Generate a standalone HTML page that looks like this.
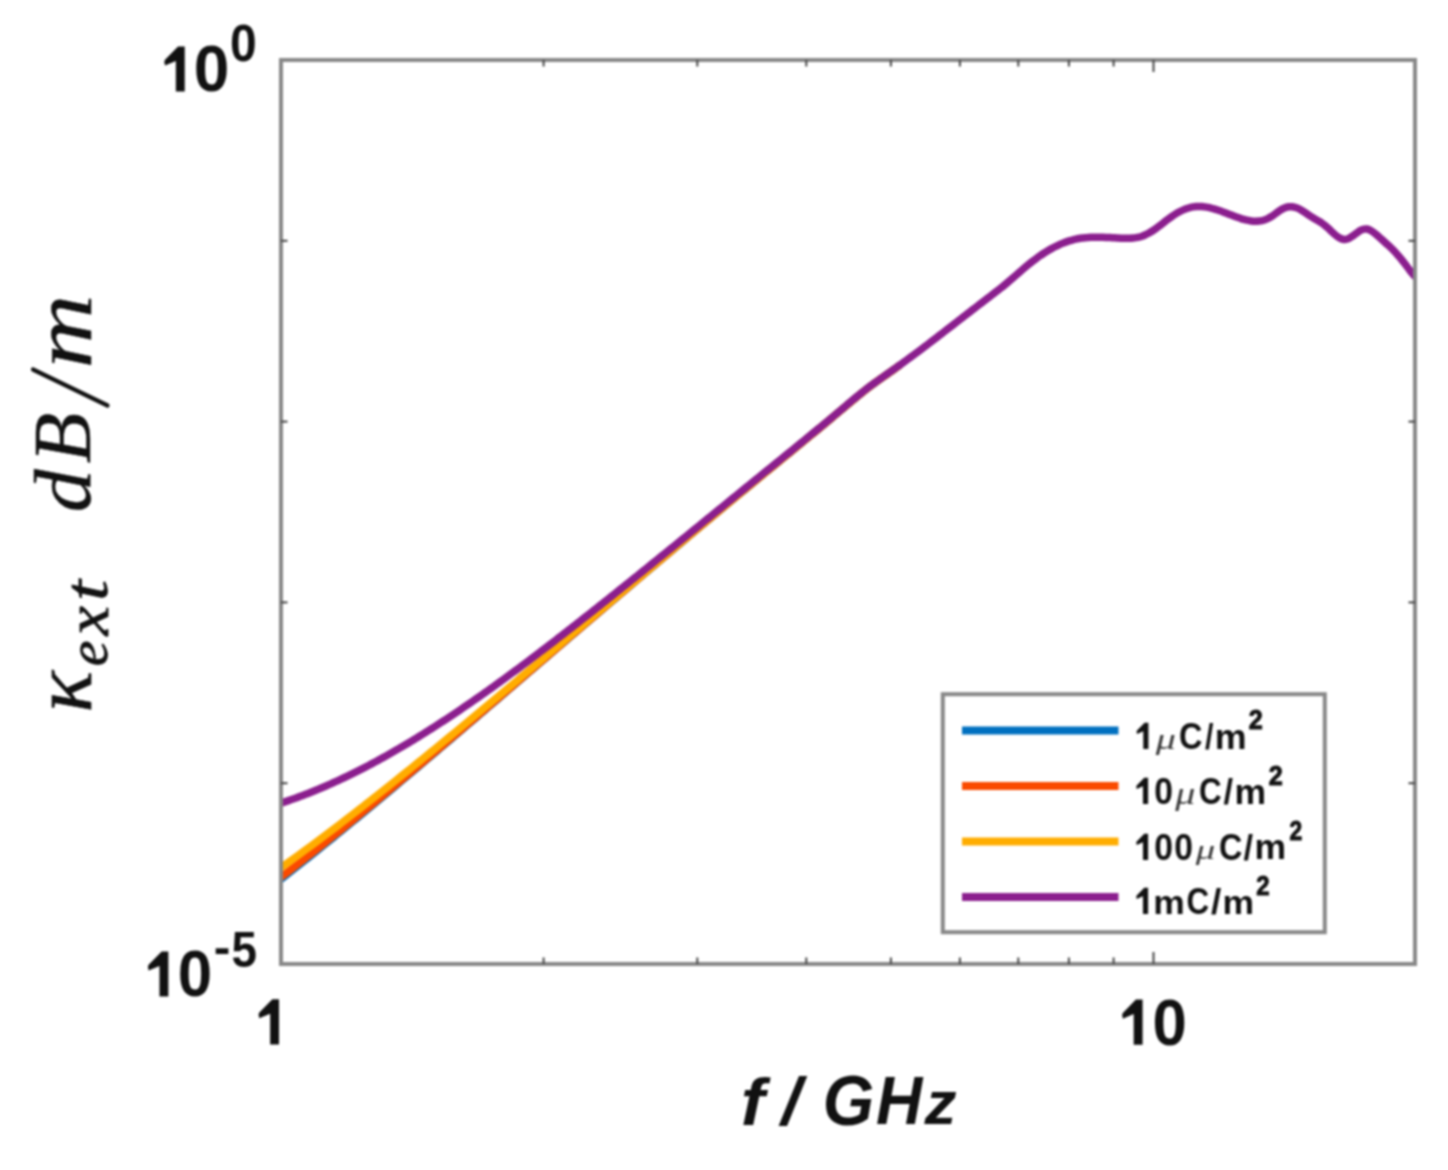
<!DOCTYPE html>
<html><head><meta charset="utf-8"><title>chart</title><style>
html,body{margin:0;padding:0;background:#fff;overflow:hidden;}
svg{display:block;filter:blur(1px);}
</style></head><body>
<svg width="1448" height="1170" viewBox="0 0 1448 1170">
<rect width="1448" height="1170" fill="#fff"/>
<defs><clipPath id="pc"><rect x="281.0" y="60.0" width="1134.0" height="904.0"/></clipPath></defs>
<g fill="none" stroke-linecap="round" stroke-linejoin="round" stroke-width="7.5" clip-path="url(#pc)">
<path d="M281.00,879.19 C282.00,878.41 285.00,876.09 287.00,874.53 C289.00,872.97 291.00,871.40 293.00,869.83 C295.00,868.26 297.00,866.68 299.00,865.10 C301.00,863.52 303.00,861.94 305.00,860.35 C307.00,858.76 309.00,857.16 311.00,855.57 C313.00,853.97 315.00,852.37 317.00,850.76 C319.00,849.15 321.00,847.54 323.00,845.93 C325.00,844.32 327.00,842.70 329.00,841.08 C331.00,839.46 333.00,837.83 335.00,836.20 C337.00,834.58 339.00,832.94 341.00,831.31 C343.00,829.68 345.00,828.04 347.00,826.40 C349.00,824.76 351.00,823.11 353.00,821.47 C355.00,819.82 357.00,818.17 359.00,816.52 C361.00,814.87 363.00,813.22 365.00,811.56 C367.00,809.90 369.00,808.24 371.00,806.58 C373.00,804.92 375.00,803.26 377.00,801.59 C379.00,799.92 381.00,798.26 383.00,796.59 C385.00,794.92 387.00,793.24 389.00,791.57 C391.00,789.89 393.00,788.22 395.00,786.54 C397.00,784.86 399.00,783.18 401.00,781.50 C403.00,779.82 405.00,778.13 407.00,776.45 C409.00,774.76 411.00,773.07 413.00,771.39 C415.00,769.70 417.00,768.01 419.00,766.32 C421.00,764.62 423.00,762.93 425.00,761.24 C427.00,759.54 429.00,757.85 431.00,756.15 C433.00,754.45 435.00,752.75 437.00,751.05 C439.00,749.35 441.00,747.65 443.00,745.95 C445.00,744.25 447.00,742.55 449.00,740.84 C451.00,739.14 453.00,737.43 455.00,735.73 C457.00,734.02 459.00,732.31 461.00,730.61 C463.00,728.90 465.00,727.19 467.00,725.48 C469.00,723.77 471.00,722.06 473.00,720.35 C475.00,718.64 477.00,716.92 479.00,715.21 C481.00,713.50 483.00,711.79 485.00,710.07 C487.00,708.36 489.00,706.64 491.00,704.93 C493.00,703.21 495.00,701.50 497.00,699.78 C499.00,698.07 501.00,696.35 503.00,694.63 C505.00,692.92 507.00,691.20 509.00,689.48 C511.00,687.77 513.00,686.05 515.00,684.33 C517.00,682.61 519.00,680.90 521.00,679.18 C523.00,677.46 525.00,675.74 527.00,674.02 C529.00,672.31 531.00,670.59 533.00,668.87 C535.00,667.15 537.00,665.44 539.00,663.72 C541.00,662.00 543.00,660.28 545.00,658.57 C547.00,656.85 549.00,655.13 551.00,653.42 C553.00,651.70 555.00,649.98 557.00,648.27 C559.00,646.55 561.00,644.84 563.00,643.12 C565.00,641.41 567.00,639.69 569.00,637.98 C571.00,636.27 573.00,634.56 575.00,632.84 C577.00,631.13 579.00,629.42 581.00,627.71 C583.00,626.00 585.00,624.29 587.00,622.59 C589.00,620.88 591.00,619.17 593.00,617.47 C595.00,615.76 597.00,614.05 599.00,612.35 C601.00,610.64 603.00,608.94 605.00,607.24 C607.00,605.54 609.00,603.83 611.00,602.13 C613.00,600.43 615.00,598.73 617.00,597.03 C619.00,595.33 621.00,593.64 623.00,591.94 C625.00,590.24 627.00,588.54 629.00,586.85 C631.00,585.15 633.00,583.46 635.00,581.76 C637.00,580.07 639.00,578.38 641.00,576.68 C643.00,574.99 645.00,573.30 647.00,571.61 C649.00,569.92 651.00,568.23 653.00,566.54 C655.00,564.85 657.00,563.16 659.00,561.48 C661.00,559.79 663.00,558.10 665.00,556.42 C667.00,554.73 669.00,553.05 671.00,551.36 C673.00,549.68 675.00,548.00 677.00,546.32 C679.00,544.64 681.00,542.96 683.00,541.28 C685.00,539.60 687.00,537.92 689.00,536.24 C691.00,534.56 693.00,532.89 695.00,531.21 C697.00,529.54 699.00,527.86 701.00,526.19 C703.00,524.52 705.00,522.85 707.00,521.18 C709.00,519.51 711.00,517.84 713.00,516.17 C715.00,514.50 717.00,512.83 719.00,511.17 C721.00,509.50 723.00,507.84 725.00,506.17 C727.00,504.51 729.00,502.85 731.00,501.19 C733.00,499.53 735.00,497.87 737.00,496.21 C739.00,494.55 741.00,492.90 743.00,491.24 C745.00,489.59 747.00,487.94 749.00,486.29 C751.00,484.63 753.00,482.98 755.00,481.34 C757.00,479.69 759.00,478.04 761.00,476.40 C763.00,474.75 765.00,473.11 767.00,471.47 C769.00,469.83 771.00,468.19 773.00,466.54 C775.00,464.90 777.00,463.26 779.00,461.63 C781.00,459.99 783.00,458.35 785.00,456.71 C787.00,455.07 789.00,453.43 791.00,451.78 C793.00,450.14 795.00,448.50 797.00,446.86 C799.00,445.21 801.00,443.57 803.00,441.92 C805.00,440.27 807.00,438.62 809.00,436.97 C811.00,435.32 813.00,433.67 815.00,432.01 C817.00,430.35 819.00,428.69 821.00,427.03 C823.00,425.37 825.00,423.70 827.00,422.03 C829.00,420.36 831.00,418.68 833.00,417.00 C835.00,415.32 837.00,413.64 839.00,411.95 C841.00,410.26 843.00,408.56 845.00,406.88 C847.00,405.19 849.00,403.49 851.00,401.82 C853.00,400.14 855.00,398.47 857.00,396.83 C859.00,395.19 861.00,393.56 863.00,391.97 C865.00,390.38 867.00,388.81 869.00,387.29 C871.00,385.77 873.00,384.29 875.00,382.84 C877.00,381.38 879.00,379.97 881.00,378.55 C883.00,377.14 885.00,375.75 887.00,374.34 C889.00,372.93 891.00,371.53 893.00,370.11 C895.00,368.69 898.00,366.53 899.00,365.81" stroke="#0070c0"/>
<path d="M281.00,877.26 C282.00,876.49 285.00,874.20 287.00,872.66 C289.00,871.12 291.00,869.58 293.00,868.03 C295.00,866.48 297.00,864.93 299.00,863.37 C301.00,861.81 303.00,860.24 305.00,858.67 C307.00,857.11 309.00,855.53 311.00,853.96 C313.00,852.38 315.00,850.80 317.00,849.21 C319.00,847.62 321.00,846.03 323.00,844.44 C325.00,842.84 327.00,841.24 329.00,839.64 C331.00,838.04 333.00,836.43 335.00,834.82 C337.00,833.21 339.00,831.60 341.00,829.98 C343.00,828.37 345.00,826.75 347.00,825.12 C349.00,823.50 351.00,821.88 353.00,820.25 C355.00,818.62 357.00,816.98 359.00,815.35 C361.00,813.71 363.00,812.07 365.00,810.43 C367.00,808.79 369.00,807.15 371.00,805.50 C373.00,803.86 375.00,802.21 377.00,800.56 C379.00,798.91 381.00,797.25 383.00,795.60 C385.00,793.94 387.00,792.28 389.00,790.62 C391.00,788.96 393.00,787.30 395.00,785.63 C397.00,783.97 399.00,782.30 401.00,780.63 C403.00,778.96 405.00,777.29 407.00,775.62 C409.00,773.94 411.00,772.27 413.00,770.59 C415.00,768.92 417.00,767.24 419.00,765.56 C421.00,763.88 423.00,762.20 425.00,760.51 C427.00,758.83 429.00,757.15 431.00,755.46 C433.00,753.77 435.00,752.08 437.00,750.40 C439.00,748.71 441.00,747.02 443.00,745.32 C445.00,743.63 447.00,741.94 449.00,740.24 C451.00,738.55 453.00,736.85 455.00,735.16 C457.00,733.46 459.00,731.76 461.00,730.06 C463.00,728.36 465.00,726.66 467.00,724.96 C469.00,723.26 471.00,721.56 473.00,719.86 C475.00,718.15 477.00,716.45 479.00,714.74 C481.00,713.04 483.00,711.33 485.00,709.63 C487.00,707.92 489.00,706.21 491.00,704.51 C493.00,702.80 495.00,701.09 497.00,699.38 C499.00,697.67 501.00,695.96 503.00,694.25 C505.00,692.54 507.00,690.83 509.00,689.12 C511.00,687.41 513.00,685.70 515.00,683.99 C517.00,682.28 519.00,680.57 521.00,678.85 C523.00,677.14 525.00,675.43 527.00,673.72 C529.00,672.00 531.00,670.29 533.00,668.58 C535.00,666.87 537.00,665.15 539.00,663.44 C541.00,661.73 543.00,660.02 545.00,658.31 C547.00,656.59 549.00,654.88 551.00,653.17 C553.00,651.46 555.00,649.75 557.00,648.03 C559.00,646.32 561.00,644.61 563.00,642.90 C565.00,641.19 567.00,639.48 569.00,637.77 C571.00,636.06 573.00,634.36 575.00,632.65 C577.00,630.94 579.00,629.23 581.00,627.53 C583.00,625.82 585.00,624.12 587.00,622.41 C589.00,620.71 591.00,619.00 593.00,617.30 C595.00,615.60 597.00,613.90 599.00,612.19 C601.00,610.49 603.00,608.79 605.00,607.09 C607.00,605.39 609.00,603.69 611.00,602.00 C613.00,600.30 615.00,598.60 617.00,596.90 C619.00,595.21 621.00,593.51 623.00,591.82 C625.00,590.12 627.00,588.43 629.00,586.73 C631.00,585.04 633.00,583.35 635.00,581.66 C637.00,579.96 639.00,578.27 641.00,576.58 C643.00,574.89 645.00,573.20 647.00,571.51 C649.00,569.83 651.00,568.14 653.00,566.45 C655.00,564.76 657.00,563.08 659.00,561.39 C661.00,559.71 663.00,558.02 665.00,556.34 C667.00,554.66 669.00,552.97 671.00,551.29 C673.00,549.61 675.00,547.93 677.00,546.25 C679.00,544.57 681.00,542.89 683.00,541.21 C685.00,539.53 687.00,537.86 689.00,536.18 C691.00,534.51 693.00,532.83 695.00,531.16 C697.00,529.48 699.00,527.81 701.00,526.14 C703.00,524.47 705.00,522.80 707.00,521.13 C709.00,519.46 711.00,517.79 713.00,516.12 C715.00,514.45 717.00,512.79 719.00,511.12 C721.00,509.46 723.00,507.80 725.00,506.13 C727.00,504.47 729.00,502.81 731.00,501.15 C733.00,499.49 735.00,497.83 737.00,496.18 C739.00,494.52 741.00,492.87 743.00,491.21 C745.00,489.56 747.00,487.91 749.00,486.26 C751.00,484.61 753.00,482.96 755.00,481.31 C757.00,479.66 759.00,478.02 761.00,476.37 C763.00,474.73 765.00,473.09 767.00,471.44 C769.00,469.80 771.00,468.16 773.00,466.52 C775.00,464.88 777.00,463.24 779.00,461.60 C781.00,459.96 783.00,458.33 785.00,456.69 C787.00,455.05 789.00,453.41 791.00,451.77 C793.00,450.13 795.00,448.48 797.00,446.84 C799.00,445.20 801.00,443.55 803.00,441.91 C805.00,440.26 807.00,438.61 809.00,436.96 C811.00,435.31 813.00,433.65 815.00,432.00 C817.00,430.34 819.00,428.68 821.00,427.02 C823.00,425.35 825.00,423.69 827.00,422.02 C829.00,420.35 831.00,418.67 833.00,416.99 C835.00,415.31 837.00,413.63 839.00,411.94 C841.00,410.25 843.00,408.56 845.00,406.87 C847.00,405.18 849.00,403.48 851.00,401.81 C853.00,400.13 855.00,398.46 857.00,396.82 C859.00,395.18 861.00,393.55 863.00,391.96 C865.00,390.37 867.00,388.81 869.00,387.28 C871.00,385.76 873.00,384.29 875.00,382.83 C877.00,381.38 879.00,379.96 881.00,378.55 C883.00,377.13 885.00,375.74 887.00,374.34 C889.00,372.93 891.00,371.53 893.00,370.10 C895.00,368.68 898.00,366.52 899.00,365.80" stroke="#fa4a00"/>
<path d="M281.00,867.59 C282.00,866.88 285.00,864.75 287.00,863.33 C289.00,861.90 291.00,860.47 293.00,859.03 C295.00,857.59 297.00,856.14 299.00,854.69 C301.00,853.24 303.00,851.78 305.00,850.31 C307.00,848.85 309.00,847.38 311.00,845.90 C313.00,844.43 315.00,842.94 317.00,841.46 C319.00,839.97 321.00,838.48 323.00,836.98 C325.00,835.48 327.00,833.98 329.00,832.47 C331.00,830.96 333.00,829.45 335.00,827.93 C337.00,826.41 339.00,824.88 341.00,823.36 C343.00,821.83 345.00,820.30 347.00,818.76 C349.00,817.22 351.00,815.68 353.00,814.13 C355.00,812.59 357.00,811.04 359.00,809.48 C361.00,807.93 363.00,806.37 365.00,804.81 C367.00,803.25 369.00,801.68 371.00,800.11 C373.00,798.54 375.00,796.96 377.00,795.39 C379.00,793.81 381.00,792.23 383.00,790.64 C385.00,789.06 387.00,787.47 389.00,785.88 C391.00,784.29 393.00,782.69 395.00,781.09 C397.00,779.50 399.00,777.90 401.00,776.29 C403.00,774.69 405.00,773.08 407.00,771.47 C409.00,769.86 411.00,768.24 413.00,766.63 C415.00,765.01 417.00,763.39 419.00,761.77 C421.00,760.15 423.00,758.52 425.00,756.90 C427.00,755.27 429.00,753.64 431.00,752.01 C433.00,750.37 435.00,748.74 437.00,747.10 C439.00,745.47 441.00,743.83 443.00,742.18 C445.00,740.54 447.00,738.90 449.00,737.25 C451.00,735.61 453.00,733.96 455.00,732.31 C457.00,730.66 459.00,729.00 461.00,727.35 C463.00,725.69 465.00,724.04 467.00,722.38 C469.00,720.72 471.00,719.06 473.00,717.40 C475.00,715.74 477.00,714.07 479.00,712.41 C481.00,710.74 483.00,709.08 485.00,707.41 C487.00,705.74 489.00,704.07 491.00,702.40 C493.00,700.73 495.00,699.05 497.00,697.38 C499.00,695.70 501.00,694.03 503.00,692.35 C505.00,690.67 507.00,689.00 509.00,687.32 C511.00,685.64 513.00,683.96 515.00,682.28 C517.00,680.60 519.00,678.91 521.00,677.23 C523.00,675.55 525.00,673.86 527.00,672.18 C529.00,670.50 531.00,668.81 533.00,667.12 C535.00,665.44 537.00,663.75 539.00,662.06 C541.00,660.38 543.00,658.69 545.00,657.00 C547.00,655.31 549.00,653.62 551.00,651.94 C553.00,650.25 555.00,648.56 557.00,646.87 C559.00,645.18 561.00,643.49 563.00,641.80 C565.00,640.11 567.00,638.42 569.00,636.73 C571.00,635.04 573.00,633.36 575.00,631.67 C577.00,629.98 579.00,628.29 581.00,626.60 C583.00,624.91 585.00,623.23 587.00,621.54 C589.00,619.85 591.00,618.16 593.00,616.48 C595.00,614.79 597.00,613.10 599.00,611.42 C601.00,609.73 603.00,608.05 605.00,606.36 C607.00,604.68 609.00,602.99 611.00,601.31 C613.00,599.62 615.00,597.94 617.00,596.26 C619.00,594.57 621.00,592.89 623.00,591.21 C625.00,589.53 627.00,587.84 629.00,586.16 C631.00,584.48 633.00,582.80 635.00,581.12 C637.00,579.44 639.00,577.76 641.00,576.08 C643.00,574.40 645.00,572.72 647.00,571.04 C649.00,569.36 651.00,567.68 653.00,566.01 C655.00,564.33 657.00,562.65 659.00,560.98 C661.00,559.30 663.00,557.62 665.00,555.95 C667.00,554.27 669.00,552.60 671.00,550.92 C673.00,549.25 675.00,547.58 677.00,545.91 C679.00,544.23 681.00,542.56 683.00,540.89 C685.00,539.22 687.00,537.55 689.00,535.88 C691.00,534.21 693.00,532.54 695.00,530.87 C697.00,529.21 699.00,527.54 701.00,525.87 C703.00,524.21 705.00,522.54 707.00,520.88 C709.00,519.22 711.00,517.55 713.00,515.89 C715.00,514.23 717.00,512.57 719.00,510.91 C721.00,509.25 723.00,507.59 725.00,505.93 C727.00,504.28 729.00,502.62 731.00,500.96 C733.00,499.31 735.00,497.66 737.00,496.00 C739.00,494.35 741.00,492.70 743.00,491.05 C745.00,489.40 747.00,487.75 749.00,486.10 C751.00,484.46 753.00,482.81 755.00,481.17 C757.00,479.52 759.00,477.88 761.00,476.24 C763.00,474.60 765.00,472.96 767.00,471.32 C769.00,469.68 771.00,468.05 773.00,466.41 C775.00,464.77 777.00,463.14 779.00,461.50 C781.00,459.86 783.00,458.23 785.00,456.59 C787.00,454.95 789.00,453.31 791.00,451.68 C793.00,450.04 795.00,448.40 797.00,446.76 C799.00,445.11 801.00,443.47 803.00,441.83 C805.00,440.18 807.00,438.54 809.00,436.89 C811.00,435.24 813.00,433.58 815.00,431.93 C817.00,430.27 819.00,428.62 821.00,426.95 C823.00,425.29 825.00,423.63 827.00,421.96 C829.00,420.29 831.00,418.62 833.00,416.94 C835.00,415.26 837.00,413.58 839.00,411.89 C841.00,410.21 843.00,408.51 845.00,406.82 C847.00,405.13 849.00,403.44 851.00,401.77 C853.00,400.09 855.00,398.42 857.00,396.78 C859.00,395.14 861.00,393.51 863.00,391.92 C865.00,390.34 867.00,388.77 869.00,387.25 C871.00,385.73 873.00,384.26 875.00,382.80 C877.00,381.35 879.00,379.94 881.00,378.52 C883.00,377.11 885.00,375.72 887.00,374.31 C889.00,372.90 891.00,371.50 893.00,370.08 C895.00,368.66 898.00,366.50 899.00,365.78" stroke="#ffad00"/>
<path d="M281.00,803.11 C281.50,802.95 283.00,802.46 284.00,802.12 C285.00,801.79 286.00,801.46 287.00,801.12 C288.00,800.78 289.00,800.43 290.00,800.08 C291.00,799.73 292.00,799.38 293.00,799.03 C294.00,798.67 295.00,798.31 296.00,797.95 C297.00,797.59 298.00,797.22 299.00,796.85 C300.00,796.48 301.00,796.10 302.00,795.72 C303.00,795.35 304.00,794.96 305.00,794.58 C306.00,794.19 307.00,793.80 308.00,793.41 C309.00,793.02 310.00,792.62 311.00,792.22 C312.00,791.82 313.00,791.42 314.00,791.01 C315.00,790.60 316.00,790.19 317.00,789.78 C318.00,789.36 319.00,788.95 320.00,788.52 C321.00,788.10 322.00,787.68 323.00,787.25 C324.00,786.82 325.00,786.39 326.00,785.95 C327.00,785.52 328.00,785.08 329.00,784.64 C330.00,784.20 331.00,783.75 332.00,783.30 C333.00,782.85 334.00,782.40 335.00,781.94 C336.00,781.49 337.00,781.03 338.00,780.57 C339.00,780.10 340.00,779.64 341.00,779.17 C342.00,778.70 343.00,778.23 344.00,777.75 C345.00,777.28 346.00,776.80 347.00,776.32 C348.00,775.84 349.00,775.35 350.00,774.86 C351.00,774.37 352.00,773.88 353.00,773.39 C354.00,772.89 355.00,772.39 356.00,771.89 C357.00,771.39 358.00,770.89 359.00,770.38 C360.00,769.87 361.00,769.36 362.00,768.85 C363.00,768.34 364.00,767.82 365.00,767.30 C366.00,766.78 367.00,766.26 368.00,765.74 C369.00,765.21 370.00,764.68 371.00,764.15 C372.00,763.62 373.00,763.08 374.00,762.55 C375.00,762.01 376.00,761.47 377.00,760.93 C378.00,760.38 379.00,759.84 380.00,759.29 C381.00,758.74 382.00,758.19 383.00,757.64 C384.00,757.08 385.00,756.52 386.00,755.96 C387.00,755.40 388.00,754.84 389.00,754.28 C390.00,753.71 391.00,753.14 392.00,752.57 C393.00,752.00 394.00,751.43 395.00,750.85 C396.00,750.27 397.00,749.69 398.00,749.11 C399.00,748.53 400.00,747.95 401.00,747.36 C402.00,746.77 403.00,746.18 404.00,745.59 C405.00,745.00 406.00,744.40 407.00,743.81 C408.00,743.21 409.00,742.61 410.00,742.01 C411.00,741.40 412.00,740.80 413.00,740.19 C414.00,739.58 415.00,738.97 416.00,738.36 C417.00,737.75 418.00,737.13 419.00,736.52 C420.00,735.90 421.00,735.28 422.00,734.66 C423.00,734.04 424.00,733.41 425.00,732.78 C426.00,732.16 427.00,731.53 428.00,730.90 C429.00,730.26 430.00,729.63 431.00,728.99 C432.00,728.36 433.00,727.72 434.00,727.08 C435.00,726.44 436.00,725.79 437.00,725.15 C438.00,724.50 439.00,723.86 440.00,723.21 C441.00,722.56 442.00,721.90 443.00,721.25 C444.00,720.60 445.00,719.94 446.00,719.28 C447.00,718.62 448.00,717.96 449.00,717.30 C450.00,716.64 451.00,715.97 452.00,715.31 C453.00,714.64 454.00,713.97 455.00,713.30 C456.00,712.63 457.00,711.96 458.00,711.28 C459.00,710.61 460.00,709.93 461.00,709.25 C462.00,708.57 463.00,707.89 464.00,707.21 C465.00,706.53 466.00,705.84 467.00,705.15 C468.00,704.47 469.00,703.78 470.00,703.09 C471.00,702.40 472.00,701.71 473.00,701.01 C474.00,700.32 475.00,699.62 476.00,698.92 C477.00,698.23 478.00,697.53 479.00,696.82 C480.00,696.12 481.00,695.42 482.00,694.72 C483.00,694.01 484.00,693.30 485.00,692.60 C486.00,691.89 487.00,691.18 488.00,690.47 C489.00,689.75 490.00,689.04 491.00,688.33 C492.00,687.61 493.00,686.89 494.00,686.18 C495.00,685.46 496.00,684.74 497.00,684.02 C498.00,683.29 499.00,682.57 500.00,681.85 C501.00,681.12 502.00,680.40 503.00,679.67 C504.00,678.94 505.00,678.21 506.00,677.48 C507.00,676.75 508.00,676.02 509.00,675.28 C510.00,674.55 511.00,673.82 512.00,673.08 C513.00,672.34 514.00,671.61 515.00,670.87 C516.00,670.13 517.00,669.39 518.00,668.64 C519.00,667.90 520.00,667.16 521.00,666.41 C522.00,665.67 523.00,664.92 524.00,664.18 C525.00,663.43 526.00,662.68 527.00,661.93 C528.00,661.18 529.00,660.43 530.00,659.68 C531.00,658.93 532.00,658.17 533.00,657.42 C534.00,656.66 535.00,655.91 536.00,655.15 C537.00,654.39 538.00,653.64 539.00,652.88 C540.00,652.12 541.00,651.36 542.00,650.60 C543.00,649.84 544.00,649.07 545.00,648.31 C546.00,647.55 547.00,646.78 548.00,646.02 C549.00,645.25 550.00,644.48 551.00,643.72 C552.00,642.95 553.00,642.18 554.00,641.41 C555.00,640.64 556.00,639.87 557.00,639.10 C558.00,638.33 559.00,637.56 560.00,636.78 C561.00,636.01 562.00,635.23 563.00,634.46 C564.00,633.68 565.00,632.91 566.00,632.13 C567.00,631.36 568.00,630.58 569.00,629.80 C570.00,629.02 571.00,628.24 572.00,627.46 C573.00,626.68 574.00,625.90 575.00,625.12 C576.00,624.34 577.00,623.56 578.00,622.78 C579.00,621.99 580.00,621.21 581.00,620.42 C582.00,619.64 583.00,618.86 584.00,618.07 C585.00,617.29 586.00,616.50 587.00,615.71 C588.00,614.93 589.00,614.14 590.00,613.35 C591.00,612.56 592.00,611.77 593.00,610.99 C594.00,610.20 595.00,609.41 596.00,608.62 C597.00,607.83 598.00,607.04 599.00,606.24 C600.00,605.45 601.00,604.66 602.00,603.87 C603.00,603.08 604.00,602.28 605.00,601.49 C606.00,600.69 607.00,599.90 608.00,599.11 C609.00,598.31 610.00,597.52 611.00,596.72 C612.00,595.92 613.00,595.13 614.00,594.33 C615.00,593.53 616.00,592.74 617.00,591.94 C618.00,591.14 619.00,590.34 620.00,589.54 C621.00,588.75 622.00,587.95 623.00,587.15 C624.00,586.35 625.00,585.55 626.00,584.75 C627.00,583.95 628.00,583.15 629.00,582.34 C630.00,581.54 631.00,580.74 632.00,579.94 C633.00,579.14 634.00,578.33 635.00,577.53 C636.00,576.73 637.00,575.92 638.00,575.12 C639.00,574.32 640.00,573.51 641.00,572.71 C642.00,571.90 643.00,571.10 644.00,570.29 C645.00,569.49 646.00,568.68 647.00,567.88 C648.00,567.07 649.00,566.26 650.00,565.46 C651.00,564.65 652.00,563.84 653.00,563.04 C654.00,562.23 655.00,561.42 656.00,560.62 C657.00,559.81 658.00,559.00 659.00,558.19 C660.00,557.38 661.00,556.57 662.00,555.76 C663.00,554.96 664.00,554.15 665.00,553.34 C666.00,552.53 667.00,551.72 668.00,550.91 C669.00,550.10 670.00,549.29 671.00,548.48 C672.00,547.67 673.00,546.86 674.00,546.05 C675.00,545.24 676.00,544.42 677.00,543.61 C678.00,542.80 679.00,541.99 680.00,541.18 C681.00,540.37 682.00,539.56 683.00,538.75 C684.00,537.93 685.00,537.12 686.00,536.31 C687.00,535.50 688.00,534.68 689.00,533.87 C690.00,533.06 691.00,532.25 692.00,531.43 C693.00,530.62 694.00,529.81 695.00,529.00 C696.00,528.18 697.00,527.37 698.00,526.56 C699.00,525.74 700.00,524.93 701.00,524.12 C702.00,523.31 703.00,522.49 704.00,521.68 C705.00,520.87 706.00,520.05 707.00,519.24 C708.00,518.43 709.00,517.61 710.00,516.80 C711.00,515.99 712.00,515.17 713.00,514.36 C714.00,513.55 715.00,512.73 716.00,511.92 C717.00,511.10 718.00,510.29 719.00,509.48 C720.00,508.66 721.00,507.85 722.00,507.04 C723.00,506.22 724.00,505.41 725.00,504.60 C726.00,503.78 727.00,502.97 728.00,502.16 C729.00,501.34 730.00,500.53 731.00,499.72 C732.00,498.91 733.00,498.09 734.00,497.28 C735.00,496.47 736.00,495.65 737.00,494.84 C738.00,494.03 739.00,493.22 740.00,492.40 C741.00,491.59 742.00,490.78 743.00,489.97 C744.00,489.15 745.00,488.34 746.00,487.53 C747.00,486.72 748.00,485.91 749.00,485.10 C750.00,484.28 751.00,483.47 752.00,482.66 C753.00,481.85 754.00,481.04 755.00,480.23 C756.00,479.42 757.00,478.61 758.00,477.80 C759.00,476.99 760.00,476.18 761.00,475.37 C762.00,474.56 763.00,473.75 764.00,472.94 C765.00,472.13 766.00,471.32 767.00,470.51 C768.00,469.70 769.00,468.89 770.00,468.08 C771.00,467.27 772.00,466.46 773.00,465.65 C774.00,464.84 775.00,464.03 776.00,463.22 C777.00,462.41 778.00,461.61 779.00,460.80 C780.00,459.99 781.00,459.18 782.00,458.37 C783.00,457.56 784.00,456.75 785.00,455.94 C786.00,455.12 787.00,454.31 788.00,453.50 C789.00,452.69 790.00,451.88 791.00,451.07 C792.00,450.26 793.00,449.44 794.00,448.63 C795.00,447.82 796.00,447.01 797.00,446.19 C798.00,445.38 799.00,444.56 800.00,443.75 C801.00,442.94 802.00,442.12 803.00,441.30 C804.00,440.49 805.00,439.67 806.00,438.85 C807.00,438.04 808.00,437.22 809.00,436.40 C810.00,435.58 811.00,434.76 812.00,433.94 C813.00,433.12 814.00,432.30 815.00,431.48 C816.00,430.66 817.00,429.84 818.00,429.01 C819.00,428.19 820.00,427.36 821.00,426.54 C822.00,425.71 823.00,424.89 824.00,424.06 C825.00,423.23 826.00,422.40 827.00,421.57 C828.00,420.74 829.00,419.91 830.00,419.08 C831.00,418.25 832.00,417.42 833.00,416.58 C834.00,415.75 835.00,414.91 836.00,414.08 C837.00,413.24 838.00,412.40 839.00,411.56 C840.00,410.72 841.00,409.88 842.00,409.04 C843.00,408.20 844.00,407.36 845.00,406.52 C846.00,405.67 847.00,404.83 848.00,403.99 C849.00,403.16 850.00,402.32 851.00,401.48 C852.00,400.65 853.00,399.82 854.00,398.99 C855.00,398.16 856.00,397.34 857.00,396.52 C858.00,395.70 859.00,394.89 860.00,394.08 C861.00,393.28 862.00,392.48 863.00,391.68 C864.00,390.89 865.00,390.11 866.00,389.33 C867.00,388.55 868.00,387.79 869.00,387.03 C870.00,386.27 871.00,385.52 872.00,384.79 C873.00,384.05 874.00,383.32 875.00,382.60 C876.00,381.87 877.00,381.16 878.00,380.45 C879.00,379.74 880.00,379.03 881.00,378.33 C882.00,377.63 883.00,376.93 884.00,376.23 C885.00,375.53 886.00,374.84 887.00,374.14 C888.00,373.44 889.00,372.74 890.00,372.04 C891.00,371.33 892.00,370.63 893.00,369.92 C894.00,369.21 895.00,368.50 896.00,367.79 C897.00,367.07 898.00,366.35 899.00,365.63 C900.00,364.91 901.00,364.19 902.00,363.47 C903.00,362.74 904.00,362.02 905.00,361.29 C906.00,360.56 907.00,359.82 908.00,359.09 C909.00,358.35 910.00,357.62 911.00,356.88 C912.00,356.14 913.00,355.40 914.00,354.66 C915.00,353.91 916.00,353.17 917.00,352.42 C918.00,351.67 919.00,350.92 920.00,350.17 C921.00,349.42 922.00,348.67 923.00,347.92 C924.00,347.16 925.00,346.41 926.00,345.65 C927.00,344.89 928.00,344.13 929.00,343.38 C930.00,342.62 931.00,341.85 932.00,341.09 C933.00,340.33 934.00,339.56 935.00,338.80 C936.00,338.03 937.00,337.27 938.00,336.50 C939.00,335.73 940.00,334.97 941.00,334.20 C942.00,333.43 943.00,332.66 944.00,331.89 C945.00,331.12 946.00,330.35 947.00,329.57 C948.00,328.80 949.00,328.03 950.00,327.26 C951.00,326.48 952.00,325.71 953.00,324.94 C954.00,324.16 955.00,323.39 956.00,322.61 C957.00,321.84 958.00,321.07 959.00,320.29 C960.00,319.52 961.00,318.74 962.00,317.97 C963.00,317.19 964.00,316.42 965.00,315.64 C966.00,314.87 967.00,314.09 968.00,313.32 C969.00,312.55 970.00,311.77 971.00,311.00 C972.00,310.23 973.00,309.45 974.00,308.68 C975.00,307.91 976.00,307.14 977.00,306.37 C978.00,305.60 979.00,304.82 980.00,304.06 C981.00,303.29 982.00,302.52 983.00,301.75 C984.00,300.98 985.00,300.21 986.00,299.45 C987.00,298.68 988.00,297.92 989.00,297.15 C990.00,296.39 991.00,295.63 992.00,294.87 C993.00,294.10 994.00,293.34 995.00,292.57 C996.00,291.81 997.00,291.04 998.00,290.26 C999.00,289.48 1000.00,288.70 1001.00,287.90 C1002.00,287.11 1003.00,286.31 1004.00,285.49 C1005.00,284.67 1006.00,283.84 1007.00,283.00 C1008.00,282.16 1009.00,281.31 1010.00,280.45 C1011.00,279.59 1012.00,278.72 1013.00,277.85 C1014.00,276.98 1015.00,276.10 1016.00,275.22 C1017.00,274.35 1018.00,273.47 1019.00,272.59 C1020.00,271.72 1021.00,270.85 1022.00,269.98 C1023.00,269.12 1024.00,268.26 1025.00,267.41 C1026.00,266.57 1027.00,265.73 1028.00,264.90 C1029.00,264.08 1030.00,263.27 1031.00,262.47 C1032.00,261.68 1033.00,260.90 1034.00,260.14 C1035.00,259.38 1036.00,258.64 1037.00,257.91 C1038.00,257.18 1039.00,256.47 1040.00,255.78 C1041.00,255.09 1042.00,254.41 1043.00,253.75 C1044.00,253.10 1045.00,252.46 1046.00,251.83 C1047.00,251.21 1048.00,250.61 1049.00,250.02 C1050.00,249.44 1051.00,248.87 1052.00,248.33 C1053.00,247.78 1054.00,247.25 1055.00,246.75 C1056.00,246.24 1057.00,245.75 1058.00,245.28 C1059.00,244.81 1060.00,244.36 1061.00,243.93 C1062.00,243.50 1063.00,243.10 1064.00,242.71 C1065.00,242.32 1066.00,241.95 1067.00,241.61 C1068.00,241.26 1069.00,240.94 1070.00,240.63 C1071.00,240.33 1072.00,240.05 1073.00,239.79 C1074.00,239.53 1075.00,239.29 1076.00,239.08 C1077.00,238.86 1078.00,238.67 1079.00,238.49 C1080.00,238.32 1081.00,238.17 1082.00,238.03 C1083.00,237.89 1084.00,237.78 1085.00,237.67 C1086.00,237.57 1087.00,237.49 1088.00,237.42 C1089.00,237.35 1090.00,237.29 1091.00,237.25 C1092.00,237.21 1093.00,237.18 1094.00,237.16 C1095.00,237.14 1096.00,237.14 1097.00,237.14 C1098.00,237.14 1099.00,237.15 1100.00,237.17 C1101.00,237.19 1102.00,237.22 1103.00,237.26 C1104.00,237.29 1105.00,237.33 1106.00,237.38 C1107.00,237.42 1108.00,237.47 1109.00,237.52 C1110.00,237.57 1111.00,237.63 1112.00,237.68 C1113.00,237.74 1114.00,237.80 1115.00,237.85 C1116.00,237.91 1117.00,237.96 1118.00,238.02 C1119.00,238.07 1120.00,238.12 1121.00,238.16 C1122.00,238.21 1123.00,238.25 1124.00,238.28 C1125.00,238.30 1126.00,238.32 1127.00,238.32 C1128.00,238.32 1129.00,238.30 1130.00,238.25 C1131.00,238.21 1132.00,238.14 1133.00,238.04 C1134.00,237.94 1135.00,237.82 1136.00,237.65 C1137.00,237.49 1138.00,237.29 1139.00,237.05 C1140.00,236.80 1141.00,236.52 1142.00,236.18 C1143.00,235.85 1144.00,235.47 1145.00,235.03 C1146.00,234.59 1147.00,234.09 1148.00,233.56 C1149.00,233.02 1150.00,232.43 1151.00,231.81 C1152.00,231.19 1153.00,230.52 1154.00,229.84 C1155.00,229.15 1156.00,228.43 1157.00,227.69 C1158.00,226.96 1159.00,226.20 1160.00,225.44 C1161.00,224.68 1162.00,223.90 1163.00,223.13 C1164.00,222.36 1165.00,221.57 1166.00,220.81 C1167.00,220.05 1168.00,219.28 1169.00,218.55 C1170.00,217.81 1171.00,217.08 1172.00,216.39 C1173.00,215.70 1174.00,215.03 1175.00,214.40 C1176.00,213.76 1177.00,213.16 1178.00,212.59 C1179.00,212.02 1180.00,211.49 1181.00,210.99 C1182.00,210.49 1183.00,210.03 1184.00,209.61 C1185.00,209.18 1186.00,208.80 1187.00,208.45 C1188.00,208.11 1189.00,207.80 1190.00,207.55 C1191.00,207.29 1192.00,207.07 1193.00,206.90 C1194.00,206.73 1195.00,206.60 1196.00,206.52 C1197.00,206.44 1198.00,206.40 1199.00,206.40 C1200.00,206.40 1201.00,206.45 1202.00,206.52 C1203.00,206.60 1204.00,206.71 1205.00,206.85 C1206.00,206.99 1207.00,207.17 1208.00,207.37 C1209.00,207.57 1210.00,207.80 1211.00,208.05 C1212.00,208.30 1213.00,208.58 1214.00,208.87 C1215.00,209.16 1216.00,209.48 1217.00,209.81 C1218.00,210.13 1219.00,210.48 1220.00,210.83 C1221.00,211.19 1222.00,211.55 1223.00,211.93 C1224.00,212.30 1225.00,212.68 1226.00,213.06 C1227.00,213.44 1228.00,213.83 1229.00,214.22 C1230.00,214.60 1231.00,214.99 1232.00,215.37 C1233.00,215.75 1234.00,216.13 1235.00,216.49 C1236.00,216.86 1237.00,217.22 1238.00,217.56 C1239.00,217.90 1240.00,218.24 1241.00,218.55 C1242.00,218.86 1243.00,219.16 1244.00,219.44 C1245.00,219.71 1246.00,219.97 1247.00,220.19 C1248.00,220.41 1249.00,220.61 1250.00,220.77 C1251.00,220.93 1252.00,221.06 1253.00,221.14 C1254.00,221.23 1255.00,221.27 1256.00,221.27 C1257.00,221.26 1258.00,221.21 1259.00,221.10 C1260.00,220.99 1261.00,220.83 1262.00,220.60 C1263.00,220.38 1264.00,220.10 1265.00,219.75 C1266.00,219.39 1267.00,218.98 1268.00,218.48 C1269.00,217.99 1270.00,217.41 1271.00,216.78 C1272.00,216.15 1273.00,215.43 1274.00,214.72 C1275.00,214.01 1276.00,213.24 1277.00,212.52 C1278.00,211.80 1279.00,211.06 1280.00,210.42 C1281.00,209.77 1282.00,209.15 1283.00,208.65 C1284.00,208.15 1285.00,207.74 1286.00,207.43 C1287.00,207.13 1288.00,206.93 1289.00,206.83 C1290.00,206.72 1291.00,206.72 1292.00,206.81 C1293.00,206.89 1294.00,207.08 1295.00,207.34 C1296.00,207.61 1297.00,207.98 1298.00,208.41 C1299.00,208.85 1300.00,209.38 1301.00,209.95 C1302.00,210.52 1303.00,211.17 1304.00,211.82 C1305.00,212.47 1306.00,213.18 1307.00,213.86 C1308.00,214.54 1309.00,215.24 1310.00,215.90 C1311.00,216.56 1312.00,217.19 1313.00,217.80 C1314.00,218.41 1315.00,218.97 1316.00,219.56 C1317.00,220.15 1318.00,220.71 1319.00,221.32 C1320.00,221.93 1321.00,222.55 1322.00,223.23 C1323.00,223.92 1324.00,224.65 1325.00,225.45 C1326.00,226.26 1327.00,227.16 1328.00,228.07 C1329.00,228.98 1330.00,229.97 1331.00,230.91 C1332.00,231.84 1333.00,232.82 1334.00,233.70 C1335.00,234.59 1336.00,235.47 1337.00,236.21 C1338.00,236.95 1339.00,237.64 1340.00,238.15 C1341.00,238.66 1342.00,239.08 1343.00,239.28 C1344.00,239.48 1345.00,239.50 1346.00,239.34 C1347.00,239.17 1348.00,238.76 1349.00,238.29 C1350.00,237.81 1351.00,237.14 1352.00,236.47 C1353.00,235.80 1354.00,235.00 1355.00,234.26 C1356.00,233.52 1357.00,232.72 1358.00,232.04 C1359.00,231.36 1360.00,230.68 1361.00,230.19 C1362.00,229.69 1363.00,229.26 1364.00,229.07 C1365.00,228.88 1366.00,228.88 1367.00,229.05 C1368.00,229.23 1369.00,229.64 1370.00,230.14 C1371.00,230.63 1372.00,231.31 1373.00,232.02 C1374.00,232.73 1375.00,233.57 1376.00,234.40 C1377.00,235.23 1378.00,236.13 1379.00,237.01 C1380.00,237.89 1381.00,238.78 1382.00,239.67 C1383.00,240.56 1384.00,241.45 1385.00,242.35 C1386.00,243.25 1387.00,244.16 1388.00,245.09 C1389.00,246.02 1390.00,246.96 1391.00,247.94 C1392.00,248.91 1393.00,249.90 1394.00,250.94 C1395.00,251.97 1396.00,253.03 1397.00,254.14 C1398.00,255.25 1399.00,256.39 1400.00,257.59 C1401.00,258.79 1402.00,260.05 1403.00,261.34 C1404.00,262.62 1405.00,263.97 1406.00,265.29 C1407.00,266.62 1408.00,267.98 1409.00,269.28 C1410.00,270.57 1411.00,271.88 1412.00,273.09 C1413.00,274.29 1414.00,275.47 1415.00,276.53 C1416.00,277.58 1417.50,278.92 1418.00,279.40" stroke="#8b1e8e"/>
</g>
<rect x="281.0" y="60.0" width="1134.0" height="904.0" fill="none" stroke="#888" stroke-width="4"/>
<g stroke="#444" stroke-width="2">
<line x1="543.6" y1="964.0" x2="543.6" y2="957.5"/>
<line x1="543.6" y1="60.0" x2="543.6" y2="66.5"/>
<line x1="697.3" y1="964.0" x2="697.3" y2="957.5"/>
<line x1="697.3" y1="60.0" x2="697.3" y2="66.5"/>
<line x1="806.3" y1="964.0" x2="806.3" y2="957.5"/>
<line x1="806.3" y1="60.0" x2="806.3" y2="66.5"/>
<line x1="890.9" y1="964.0" x2="890.9" y2="957.5"/>
<line x1="890.9" y1="60.0" x2="890.9" y2="66.5"/>
<line x1="959.9" y1="964.0" x2="959.9" y2="957.5"/>
<line x1="959.9" y1="60.0" x2="959.9" y2="66.5"/>
<line x1="1018.3" y1="964.0" x2="1018.3" y2="957.5"/>
<line x1="1018.3" y1="60.0" x2="1018.3" y2="66.5"/>
<line x1="1068.9" y1="964.0" x2="1068.9" y2="957.5"/>
<line x1="1068.9" y1="60.0" x2="1068.9" y2="66.5"/>
<line x1="1113.6" y1="964.0" x2="1113.6" y2="957.5"/>
<line x1="1113.6" y1="60.0" x2="1113.6" y2="66.5"/>
<line x1="1153.5" y1="964.0" x2="1153.5" y2="952.0"/>
<line x1="1153.5" y1="60.0" x2="1153.5" y2="72.0"/>
<line x1="281.0" y1="240.8" x2="287.5" y2="240.8"/>
<line x1="1415.0" y1="240.8" x2="1408.5" y2="240.8"/>
<line x1="281.0" y1="421.6" x2="287.5" y2="421.6"/>
<line x1="1415.0" y1="421.6" x2="1408.5" y2="421.6"/>
<line x1="281.0" y1="602.4" x2="287.5" y2="602.4"/>
<line x1="1415.0" y1="602.4" x2="1408.5" y2="602.4"/>
<line x1="281.0" y1="783.2" x2="287.5" y2="783.2"/>
<line x1="1415.0" y1="783.2" x2="1408.5" y2="783.2"/>
</g>
<rect x="942.8" y="694.2" width="382" height="238" fill="#fff" stroke="#888" stroke-width="4"/>
<g stroke-width="8" stroke-linecap="butt">
<line x1="962" y1="730.5" x2="1118.5" y2="730.5" stroke="#0070c0"/>
<line x1="962" y1="786" x2="1118.5" y2="786" stroke="#fa4a00"/>
<line x1="962" y1="841.5" x2="1118.5" y2="841.5" stroke="#ffad00"/>
<line x1="962" y1="897" x2="1118.5" y2="897" stroke="#8b1e8e"/>
</g>
<path d="M184.74,91.59 L184.74,46.41 L178.06,46.41 L165.02,59.77 L164.26,61.66 L165.02,65.57 L175.85,60.90 L175.85,91.59 Z" fill="#111"/>
<path d="M168.36,996.59 L168.36,951.41 L161.68,951.41 L148.64,964.77 L147.89,966.66 L148.64,970.57 L159.48,965.90 L159.48,996.59 Z" fill="#111"/>
<path d="M279.04,1044.39 L279.04,999.21 L272.36,999.21 L259.32,1012.57 L258.56,1014.46 L259.32,1018.37 L270.15,1013.70 L270.15,1044.39 Z" fill="#111"/>
<path d="M1142.59,1044.74 L1142.59,999.56 L1135.91,999.56 L1122.87,1012.92 L1122.11,1014.81 L1122.87,1018.72 L1133.70,1014.05 L1133.70,1044.74 Z" fill="#111"/>
<path d="M1148.43,749.04 L1148.43,722.86 L1144.56,722.86 L1137.01,730.60 L1136.57,731.70 L1137.01,733.96 L1143.28,731.26 L1143.28,749.04 Z" fill="#111"/>
<path d="M1148.11,804.04 L1148.11,777.86 L1144.24,777.86 L1136.68,785.60 L1136.24,786.70 L1136.68,788.96 L1142.96,786.26 L1142.96,804.04 Z" fill="#111"/>
<path d="M1148.11,859.96 L1148.11,833.79 L1144.24,833.79 L1136.68,841.53 L1136.24,842.62 L1136.68,844.89 L1142.96,842.18 L1142.96,859.96 Z" fill="#111"/>
<path d="M1148.11,914.04 L1148.11,887.86 L1144.24,887.86 L1136.68,895.60 L1136.24,896.70 L1136.68,898.96 L1142.96,896.26 L1142.96,914.04 Z" fill="#111"/>
<text transform="translate(193.70 91.25) scale(1.017 1.035)" font-family="&quot;Liberation Sans&quot;, sans-serif" font-weight="bold" font-style="normal" font-size="63" fill="#111">0</text>
<text transform="translate(229.90 61.25) scale(0.924 1.014)" font-family="&quot;Liberation Sans&quot;, sans-serif" font-weight="bold" font-style="normal" font-size="52" fill="#111">0</text>
<text transform="translate(177.80 996.25) scale(0.983 1.035)" font-family="&quot;Liberation Sans&quot;, sans-serif" font-weight="bold" font-style="normal" font-size="63" fill="#111">0</text>
<text transform="translate(213.83 964.42) scale(0.962 0.917)" font-family="&quot;Liberation Sans&quot;, sans-serif" font-weight="bold" font-style="normal" font-size="52" fill="#111">-</text>
<text transform="translate(231.49 966.75) scale(0.880 0.972)" font-family="&quot;Liberation Sans&quot;, sans-serif" font-weight="bold" font-style="normal" font-size="52" fill="#111">5</text>
<text transform="translate(1152.51 1044.85) scale(0.979 1.042)" font-family="&quot;Liberation Sans&quot;, sans-serif" font-weight="bold" font-style="normal" font-size="63" fill="#111">0</text>
<text transform="translate(740.68 1124.85) scale(1.056 0.970)" font-family="&quot;Liberation Sans&quot;, sans-serif" font-weight="bold" font-style="italic" font-size="68" fill="#111">f</text>
<text transform="translate(781.35 1124.47) scale(1.048 0.976)" font-family="&quot;Liberation Sans&quot;, sans-serif" font-weight="bold" font-style="italic" font-size="68" fill="#111">/</text>
<text transform="translate(822.63 1124.85) scale(0.972 1.036)" font-family="&quot;Liberation Sans&quot;, sans-serif" font-weight="bold" font-style="italic" font-size="68" fill="#111">G</text>
<text transform="translate(875.91 1124.35) scale(0.943 0.994)" font-family="&quot;Liberation Sans&quot;, sans-serif" font-weight="bold" font-style="italic" font-size="68" fill="#111">H</text>
<text transform="translate(924.55 1124.35) scale(0.942 0.908)" font-family="&quot;Liberation Sans&quot;, sans-serif" font-weight="bold" font-style="italic" font-size="68" fill="#111">z</text>
<text transform="translate(1155.75 748.66) scale(1.005 0.732)" font-family="&quot;Liberation Serif&quot;, serif" font-weight="normal" font-style="italic" font-size="40" fill="#3a3a3a">μ</text>
<text transform="translate(1178.97 749.25) scale(0.891 1.000)" font-family="&quot;Liberation Sans&quot;, sans-serif" font-weight="bold" font-style="normal" font-size="36.5" fill="#111">C</text>
<text transform="translate(1204.92 749.27) scale(0.833 0.982)" font-family="&quot;Liberation Sans&quot;, sans-serif" font-weight="bold" font-style="normal" font-size="36.5" fill="#111">/</text>
<text transform="translate(1214.79 748.65) scale(0.982 0.945)" font-family="&quot;Liberation Sans&quot;, sans-serif" font-weight="bold" font-style="normal" font-size="36.5" fill="#111">m</text>
<text transform="translate(1248.75 729.27) scale(0.900 0.975)" font-family="&quot;Liberation Sans&quot;, sans-serif" font-weight="bold" font-style="normal" font-size="28" fill="#111" stroke="#111" stroke-width="1.0">2</text>
<text transform="translate(1154.23 804.15) scale(0.922 0.996)" font-family="&quot;Liberation Sans&quot;, sans-serif" font-weight="bold" font-style="normal" font-size="36.5" fill="#111">0</text>
<text transform="translate(1175.15 804.19) scale(1.005 0.773)" font-family="&quot;Liberation Serif&quot;, serif" font-weight="normal" font-style="italic" font-size="40" fill="#3a3a3a">μ</text>
<text transform="translate(1199.03 804.25) scale(0.859 1.000)" font-family="&quot;Liberation Sans&quot;, sans-serif" font-weight="bold" font-style="normal" font-size="36.5" fill="#111">C</text>
<text transform="translate(1223.56 804.29) scale(0.944 0.964)" font-family="&quot;Liberation Sans&quot;, sans-serif" font-weight="bold" font-style="normal" font-size="36.5" fill="#111">/</text>
<text transform="translate(1234.40 803.65) scale(0.975 0.957)" font-family="&quot;Liberation Sans&quot;, sans-serif" font-weight="bold" font-style="normal" font-size="36.5" fill="#111">m</text>
<text transform="translate(1268.75 785.27) scale(0.900 0.975)" font-family="&quot;Liberation Sans&quot;, sans-serif" font-weight="bold" font-style="normal" font-size="28" fill="#111" stroke="#111" stroke-width="1.0">2</text>
<text transform="translate(1154.23 859.75) scale(0.922 1.000)" font-family="&quot;Liberation Sans&quot;, sans-serif" font-weight="bold" font-style="normal" font-size="36.5" fill="#111">0</text>
<text transform="translate(1174.23 859.75) scale(0.922 1.000)" font-family="&quot;Liberation Sans&quot;, sans-serif" font-weight="bold" font-style="normal" font-size="36.5" fill="#111">0</text>
<text transform="translate(1195.75 858.98) scale(0.974 0.696)" font-family="&quot;Liberation Serif&quot;, serif" font-weight="normal" font-style="italic" font-size="40" fill="#3a3a3a">μ</text>
<text transform="translate(1218.98 859.75) scale(0.887 1.000)" font-family="&quot;Liberation Sans&quot;, sans-serif" font-weight="bold" font-style="normal" font-size="36.5" fill="#111">C</text>
<text transform="translate(1243.56 859.79) scale(0.944 0.964)" font-family="&quot;Liberation Sans&quot;, sans-serif" font-weight="bold" font-style="normal" font-size="36.5" fill="#111">/</text>
<text transform="translate(1254.40 859.25) scale(0.975 0.950)" font-family="&quot;Liberation Sans&quot;, sans-serif" font-weight="bold" font-style="normal" font-size="36.5" fill="#111">m</text>
<text transform="translate(1289.50 840.27) scale(0.817 0.975)" font-family="&quot;Liberation Sans&quot;, sans-serif" font-weight="bold" font-style="normal" font-size="28" fill="#111" stroke="#111" stroke-width="1.0">2</text>
<text transform="translate(1153.21 913.65) scale(0.971 0.925)" font-family="&quot;Liberation Sans&quot;, sans-serif" font-weight="bold" font-style="normal" font-size="36.5" fill="#111">m</text>
<text transform="translate(1186.53 914.25) scale(0.859 1.000)" font-family="&quot;Liberation Sans&quot;, sans-serif" font-weight="bold" font-style="normal" font-size="36.5" fill="#111">C</text>
<text transform="translate(1210.98 914.27) scale(1.017 0.982)" font-family="&quot;Liberation Sans&quot;, sans-serif" font-weight="bold" font-style="normal" font-size="36.5" fill="#111">/</text>
<text transform="translate(1222.55 913.65) scale(0.973 0.925)" font-family="&quot;Liberation Sans&quot;, sans-serif" font-weight="bold" font-style="normal" font-size="36.5" fill="#111">m</text>
<text transform="translate(1256.35 895.19) scale(0.860 0.957)" font-family="&quot;Liberation Sans&quot;, sans-serif" font-weight="bold" font-style="normal" font-size="28" fill="#111" stroke="#111" stroke-width="1.0">2</text>
<text transform="translate(91.25 712.61) rotate(-90) scale(0.988 0.966)" font-family="&quot;Liberation Serif&quot;, serif" font-weight="normal" font-style="italic" font-size="88" fill="#111" stroke="#111" stroke-width="0.6">κ</text>
<text transform="translate(106.68 666.24) rotate(-90) scale(0.992 0.971)" font-family="&quot;Liberation Serif&quot;, serif" font-weight="normal" font-style="italic" font-size="58" fill="#111" stroke="#111" stroke-width="0.8">e</text>
<text transform="translate(108.25 635.41) rotate(-90) scale(1.141 1.069)" font-family="&quot;Liberation Serif&quot;, serif" font-weight="normal" font-style="italic" font-size="58" fill="#111" stroke="#111" stroke-width="0.8">x</text>
<text transform="translate(107.19 600.81) rotate(-90) scale(1.281 1.059)" font-family="&quot;Liberation Serif&quot;, serif" font-weight="normal" font-style="italic" font-size="58" fill="#111" stroke="#111" stroke-width="0.8">t</text>
<text transform="translate(90.09 512.49) rotate(-90) scale(1.020 0.958)" font-family="&quot;Liberation Serif&quot;, serif" font-weight="normal" font-style="italic" font-size="85" fill="#111" stroke="#111" stroke-width="0.4">d</text>
<text transform="translate(90.05 463.22) rotate(-90) scale(0.973 0.975)" font-family="&quot;Liberation Serif&quot;, serif" font-weight="normal" font-style="italic" font-size="85" fill="#111" stroke="#111" stroke-width="0.4">B</text>
<text transform="translate(91.05 368.57) rotate(-90) scale(1.205 0.995)" font-family="&quot;Liberation Serif&quot;, serif" font-weight="normal" font-style="italic" font-size="85" fill="#111" stroke="#111" stroke-width="0.4">m</text>
<line x1="33" y1="369.5" x2="107.5" y2="405.5" stroke="#111" stroke-width="4.2" stroke-linecap="round"/>
</svg>
</body></html>
